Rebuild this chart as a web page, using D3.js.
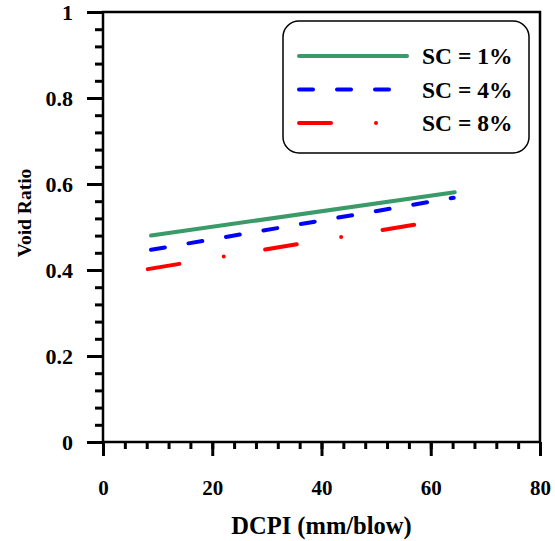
<!DOCTYPE html>
<html>
<head>
<meta charset="utf-8">
<script src="https://cdn.jsdelivr.net/npm/d3@7"></script>
<style>
  body { margin: 0; background: #fff; }
  text { font-family: "Liberation Serif", "Times New Roman", serif; font-weight: bold; }
</style>
</head>
<body>
<div id="chart"></div>
<script>
// series: start/end points
var seriesNames = ["SC = 1%", "SC = 4%", "SC = 8%"];
var sc1 = [[8.8, 0.48], [64.4, 0.581]];
var sc4 = [[8.8, 0.447], [64.2, 0.568]];
var sc8 = [[8.2, 0.402], [62.0, 0.516]];
var xTicks = [0, 20, 40, 60, 80];
var yTicks = [0, 0.2, 0.4, 0.6, 0.8, 1];

var W = 555, H = 541;
var margin = { top: 12, right: 15, bottom: 99, left: 103 };

var svg = d3.select("#chart").append("svg")
    .attr("width", W)
    .attr("height", H);

var x = d3.scaleLinear().domain([0, 80]).range([margin.left, W - margin.right]);
var y = d3.scaleLinear().domain([0, 1]).range([H - margin.bottom, margin.top]);

// frame
svg.append("rect")
    .attr("x", x(0)).attr("y", y(1))
    .attr("width", x(80) - x(0)).attr("height", y(0) - y(1))
    .attr("fill", "none").attr("stroke", "black").attr("stroke-width", 2.5);

// x axis
var xAxis = svg.append("g").attr("transform", "translate(0," + y(0) + ")");
xAxis.call(d3.axisBottom(x).tickValues(d3.range(0, 81, 4)).tickSize(7).tickFormat(""));
xAxis.call(function (g) {
    g.select(".domain").remove();
    g.selectAll(".tick line").attr("stroke-width", 3);
});
var xMajor = svg.append("g").attr("transform", "translate(0," + y(0) + ")");
xMajor.call(d3.axisBottom(x).tickValues(xTicks).tickSize(14).tickPadding(24).tickFormat(d3.format("d")));
xMajor.call(function (g) {
    g.select(".domain").remove();
    g.selectAll(".tick line").attr("stroke-width", 3);
    g.selectAll(".tick text").attr("font-size", 21).attr("fill", "black")
        .style("font-family", "'Liberation Serif', serif").style("font-weight", "bold");
});

// y axis
var yAxis = svg.append("g").attr("transform", "translate(" + x(0) + ",0)");
yAxis.call(d3.axisLeft(y).tickValues(d3.range(0, 1.001, 0.04)).tickSize(8).tickFormat(""));
yAxis.call(function (g) {
    g.select(".domain").remove();
    g.selectAll(".tick line").attr("stroke-width", 3);
});
var yMajor = svg.append("g").attr("transform", "translate(" + x(0) + ",0)");
yMajor.call(d3.axisLeft(y).tickValues(yTicks).tickSize(16).tickPadding(14).tickFormat(d3.format("")));
yMajor.call(function (g) {
    g.select(".domain").remove();
    g.selectAll(".tick line").attr("stroke-width", 3);
    g.selectAll(".tick text").attr("font-size", 22).attr("fill", "black")
        .style("font-family", "'Liberation Serif', serif").style("font-weight", "bold");
});

// axis labels
svg.append("text")
    .attr("x", (x(0) + x(80)) / 2)
    .attr("y", 534)
    .attr("text-anchor", "middle")
    .attr("font-size", 24.5)
    .text("DCPI (mm/blow)");
svg.append("text")
    .attr("transform", "translate(31,213) rotate(-90)")
    .attr("text-anchor", "middle")
    .attr("font-size", 19.5)
    .text("Void Ratio");

// lines
var styles = [
    { color: "#3a9a68", dash: null },
    { color: "#0000ff", dash: "14,24" },
    { color: "#ff0000", dash: "32,45,0,42" }
];
var line = d3.line().x(function (d) { return x(d[0]); }).y(function (d) { return y(d[1]); });
[sc1, sc4, sc8].forEach(function (s, i) {
    svg.append("path")
        .datum(s)
        .attr("d", line)
        .attr("fill", "none")
        .attr("stroke", styles[i].color)
        .attr("stroke-width", 4)
        .attr("stroke-linecap", "round")
        .attr("stroke-dasharray", styles[i].dash);
});

// legend
var lg = svg.append("g");
lg.append("rect")
    .attr("x", 283).attr("y", 21)
    .attr("width", 246).attr("height", 132)
    .attr("rx", 16).attr("ry", 16)
    .attr("fill", "white").attr("stroke", "black").attr("stroke-width", 1.5);
seriesNames.forEach(function (name, i) {
    var ly = 56 + i * 33.5;
    lg.append("line")
        .attr("x1", 299).attr("x2", 407)
        .attr("y1", ly).attr("y2", ly)
        .attr("stroke", styles[i].color)
        .attr("stroke-width", 4)
        .attr("stroke-linecap", "round")
        .attr("stroke-dasharray", styles[i].dash);
    lg.append("text")
        .attr("x", 422).attr("y", ly + 8)
        .attr("font-size", 23.5)
        .text(name);
});
</script>
</body>
</html>
